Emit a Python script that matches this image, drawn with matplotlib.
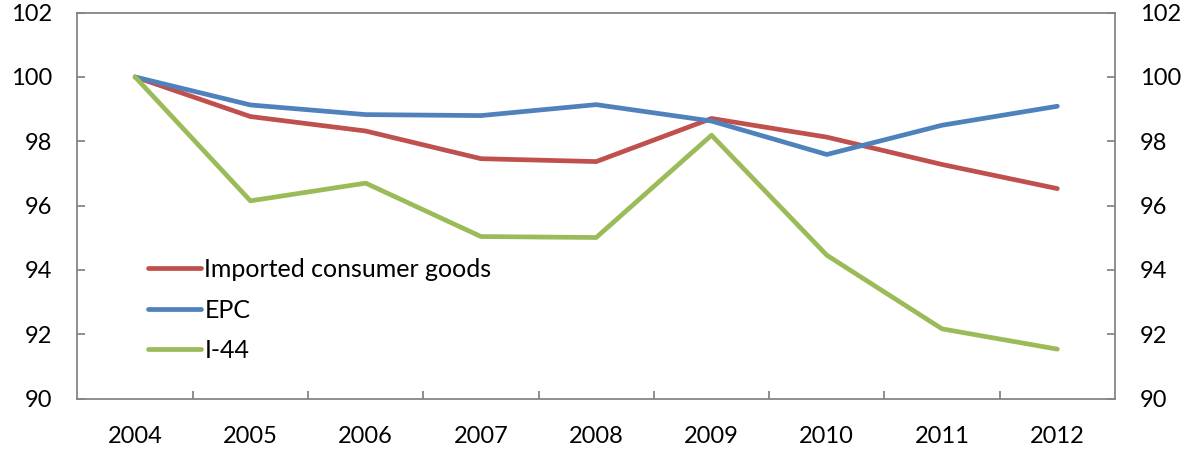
import matplotlib
matplotlib.use("Agg")
import matplotlib.pyplot as plt
import numpy as np

years = ["2004", "2005", "2006", "2007", "2008", "2009", "2010", "2011", "2012"]
imported = [100.0, 98.77, 98.32, 97.46, 97.37, 98.71, 98.13, 97.28, 96.53]
epc = [100.0, 99.13, 98.83, 98.80, 99.14, 98.63, 97.59, 98.50, 99.09]
i44 = [100.0, 96.15, 96.70, 95.04, 95.01, 98.19, 94.46, 92.17, 91.54]
yticks = [90, 92, 94, 96, 98, 100, 102]

plt.rcParams['font.family'] = ['Lato', 'DejaVu Sans']

fig = plt.figure(figsize=(11.85, 4.51), dpi=100)
ax = fig.add_axes([0.0654, 0.116, 0.8755, 0.856])
x = np.arange(len(years))

ax.plot(x, imported, color="#C0504D", lw=3.4, label="Imported consumer goods", solid_capstyle="round")
ax.plot(x, epc, color="#4F81BD", lw=3.4, label="EPC", solid_capstyle="round")
ax.plot(x, i44, color="#9BBB59", lw=3.4, label="I-44", solid_capstyle="round")

ax.set_xlim(-0.5, len(years) - 0.5)
ax.set_ylim(90, 102)
ax.set_yticks(yticks)
ax.set_yticklabels([str(v) for v in yticks])
ax.set_xticks(x)
ax.set_xticklabels(years)
ax.set_xticks(np.arange(0.5, len(years) - 1, 1.0), minor=True)

spine_c = "#868686"
for s in ax.spines.values():
    s.set_color(spine_c)
    s.set_linewidth(1.3)

ax.tick_params(axis="x", which="major", length=0, pad=20, labelsize=17)
ax.tick_params(axis="x", which="minor", direction="in", length=6, color=spine_c, width=1.3)
ax.tick_params(axis="y", which="major", direction="in", length=6, color=spine_c, width=1.3,
               labelsize=17, pad=18, left=True, right=True, labelleft=True, labelright=True)

leg = ax.legend(loc="upper left", bbox_to_anchor=(0.058, 0.39), frameon=False, fontsize=18,
                handlelength=2.15, handletextpad=0.12, labelspacing=0.7, borderaxespad=0)

fig.savefig("out.png", dpi=100)
